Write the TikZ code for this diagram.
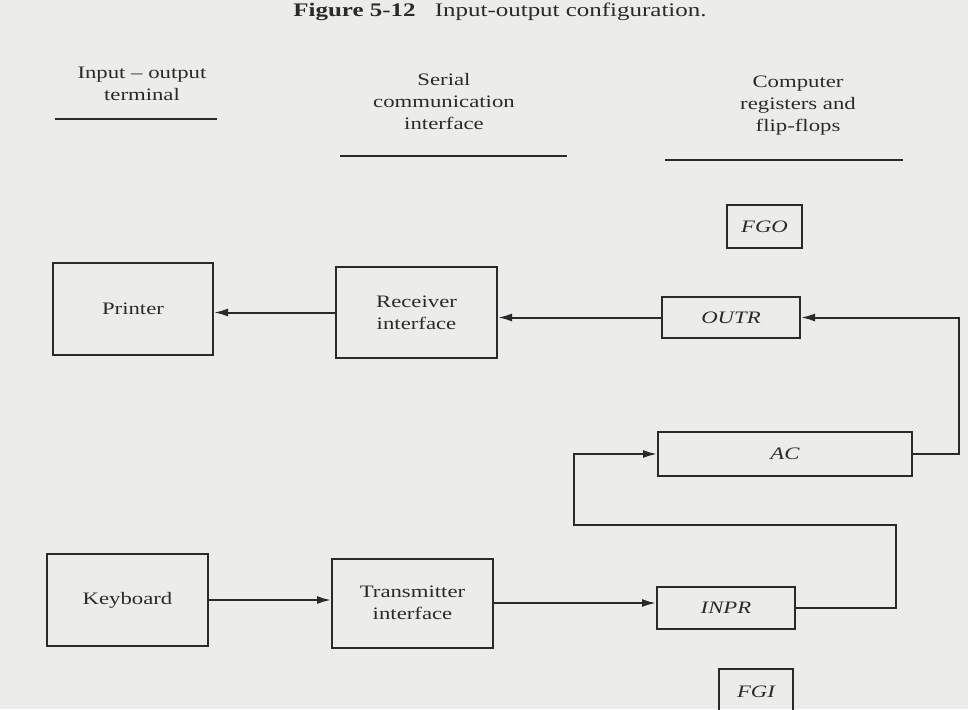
\documentclass[tikz,border=0pt]{standalone}
\usepackage{fontspec}
\setmainfont{Liberation Serif}[FakeStretch=1.3]
\usetikzlibrary{arrows.meta}
\definecolor{paper}{HTML}{ECECEA}
\definecolor{ink}{HTML}{2A2A2A}
\begin{document}
\begin{tikzpicture}[x=1pt,y=-1pt,
  txt/.style={font=\fontsize{17.5}{22}\selectfont, text=ink},
  box/.style={draw=ink, line width=2pt, inner sep=0pt, align=center, txt},
  reg/.style={box, font=\fontsize{17.5}{22}\selectfont\itshape},
  head/.style={txt, align=center},
  rulel/.style={draw=ink, line width=2pt},
  conn/.style={draw=ink, line width=2pt},
  arr/.style={conn, -{Latex[length=14pt,width=8pt]}}]
\fill[paper] (0,0) rectangle (968,709);
\useasboundingbox (0,0) rectangle (968,709);

% title
\node[txt, font=\fontsize{19.2}{22}\selectfont] (title) at (500,12)
  {\textbf{Figure 5-12}\quad Input-output configuration.};

% column heads
\node[head] (h1) at (142,84) {Input – output\\terminal};
\node[head] (h2) at (444,102) {Serial\\communication\\interface};
\node[head] (h3) at (798,106) {Computer\\registers and\\flip-flops};
\draw[rulel] (55,119) -- (217,119);
\draw[rulel] (340,156) -- (567,156);
\draw[rulel] (665,160) -- (903,160);

% boxes
\node[box, minimum width=160pt, minimum height=92pt] (prn) at (133,309) {Printer};
\node[box, minimum width=161pt, minimum height=91pt] (rec) at (416.5,312.5) {Receiver\\interface};
\node[reg, minimum width=75pt, minimum height=43pt] (fgo) at (764.5,226.5) {FGO};
\node[reg, minimum width=138pt, minimum height=41pt] (outr) at (731,317.5) {OUTR};
\node[reg, minimum width=254pt, minimum height=44pt] (ac) at (785,454) {AC};
\node[reg, minimum width=138pt, minimum height=42pt] (inpr) at (726,608) {INPR};
\node[box, minimum width=161pt, minimum height=92pt] (kb) at (127.5,600) {Keyboard};
\node[box, minimum width=161pt, minimum height=89pt] (tx) at (412.5,603) {Transmitter\\interface};
\node[reg, minimum width=74pt, minimum height=46pt] (fgi) at (756,692) {FGI};

% connectors
\draw[arr] (rec.west) -- (rec.west -| prn.east);
\draw[arr] (outr.west) -- (outr.west -| rec.east);
\draw[arr] (ac.east) -- ++(46,0) |- (outr.east);
\draw[arr] (inpr.east) -- ++(100,0) -- ++(0,-83) -- (574,525) |- (ac.west);
\draw[arr] (kb.east) -- (kb.east -| tx.west);
\draw[arr] (tx.east) -- (tx.east -| inpr.west);
\end{tikzpicture}
\end{document}
